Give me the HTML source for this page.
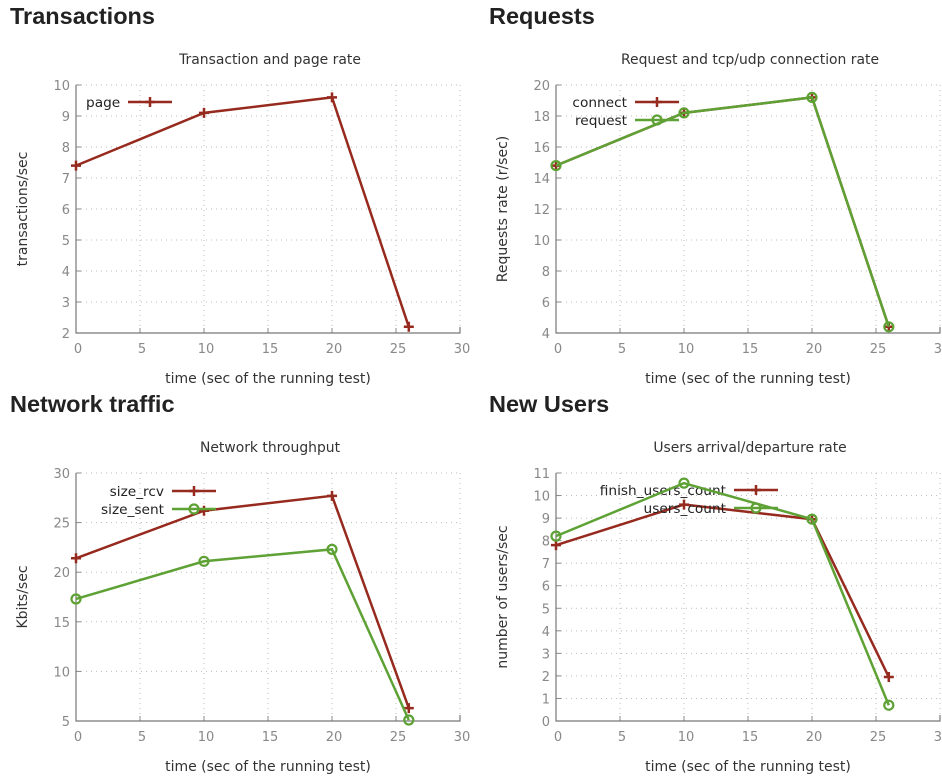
<!DOCTYPE html>
<html><head><meta charset="utf-8">
<style>
body{margin:0;background:#fff;width:942px;height:779px;overflow:hidden;font-family:"Liberation Sans",sans-serif}
h2{position:absolute;margin:0;font-size:23.5px;font-weight:bold;color:#222}
svg{position:absolute;left:0;top:0;font-family:"DejaVu Sans",sans-serif}
</style></head><body>
<h2 style="left:10px;top:3px">Transactions</h2>
<h2 style="left:489px;top:3px">Requests</h2>
<h2 style="left:10px;top:391px">Network traffic</h2>
<h2 style="left:489px;top:391px">New Users</h2>
<svg id="s" width="942" height="779"></svg>
<script>
const xVals=[0,10,20,26];
const pageVals=[7.4,9.1,9.6,2.2];
const connectVals=[14.8,18.2,19.2,4.4];
const requestVals=[14.8,18.2,19.2,4.4];
const rcvVals=[21.4,26.2,27.7,6.3];
const sentVals=[17.3,21.1,22.3,5.1];
const finishVals=[7.8,9.6,8.95,1.95];
const usersVals=[8.2,10.55,8.95,0.7];
const xTicks=[0,5,10,15,20,25,30];
const yTicks1=[2,3,4,5,6,7,8,9,10];
const yTicks2=[4,6,8,10,12,14,16,18,20];
const yTicks3=[5,10,15,20,25,30];
const yTicks4=[0,1,2,3,4,5,6,7,8,9,10,11];
const RED="#962a1e",GREEN="#5ea134";
const S=document.getElementById('s');
function el(t,a,txt){const e=document.createElementNS('http://www.w3.org/2000/svg',t);for(const k in a)e.setAttribute(k,a[k]);if(txt!==undefined)e.textContent=txt;S.appendChild(e);return e;}
function chart(c){
 const L=c.left,R=L+384,T=c.top,B=T+248;
 const sx=v=>L+v/30*384, sy=v=>B-(v-c.ymin)/(c.ymax-c.ymin)*248;
 let t=el('text',{x:L+194,y:T-21,'text-anchor':'middle','font-size':13.9,fill:'#333'},c.title);
 
 c.yt.forEach(v=>{const y=sy(v);
  if(v!==c.ymin){const g=el('line',{x1:L,x2:R,y1:y,y2:y,stroke:'#bbb','stroke-dasharray':'1,4'});}
  el('line',{x1:L,x2:L+5,y1:y,y2:y,stroke:'#888'});
  const l=el('text',{x:L-6,y:y+5,'text-anchor':'end','font-size':13,fill:'#888'},v);
  });
 xTicks.forEach(v=>{const x=sx(v);
  if(v>0){const g=el('line',{x1:x,x2:x,y1:T,y2:B,stroke:'#bbb','stroke-dasharray':'1,4'});}
  el('line',{x1:x,x2:x,y1:B,y2:B-5,stroke:'#888'});
  const l=el('text',{x:x+2,y:B+20,'text-anchor':'middle','font-size':13,fill:'#888'},v);
  });
 const ax=el('path',{d:`M${L},${T}V${B}H${R}V${B-6}`,fill:'none',stroke:'#777','stroke-width':1.2});
 
 let xt=el('text',{x:L+192,y:B+50,'text-anchor':'middle','font-size':14,fill:'#333'},'time (sec of the running test)');
 
 let yt=el('text',{x:0,y:0,'text-anchor':'middle','font-size':14,fill:'#333',transform:`translate(${L-49},${T+124}) rotate(-90)`},c.ytitle);
 
 c.series.forEach((s,i)=>{
  const pts=s.vals.map((v,j)=>[sx(xVals[j]),sy(v)]);
  const p=el('polyline',{points:pts.map(q=>q.join(',')).join(' '),fill:'none',stroke:s.color,'stroke-width':2.5});
  
  pts.forEach(q=>marker(q[0],q[1],s));
  const ly=c.legY+i*18;
  const lt=el('text',{x:c.legX,y:ly+5,'text-anchor':c.legAnchor,'font-size':13.7,fill:'#222'},s.name);
  
  el('line',{x1:c.legLine,x2:c.legLine+44,y1:ly,y2:ly,stroke:s.color,'stroke-width':2.5});
  marker(c.legLine+22,ly,s);
 });
}
function marker(x,y,s){
 if(s.mk==='o'){const m=el('circle',{cx:x,cy:y,r:4.5,fill:'none',stroke:s.color,'stroke-width':2.2});}
 else{const m=el('path',{d:`M${x-5},${y}H${x+5}M${x},${y-5}V${y+5}`,stroke:s.color,'stroke-width':2.5});}
}
chart({left:76,top:85,ymin:2,ymax:10,yt:yTicks1,title:'Transaction and page rate',ytitle:'transactions/sec',legX:86,legAnchor:'start',legLine:128,legY:102,
 series:[{name:'page',vals:pageVals,color:RED,mk:'+'}]});
chart({left:556,top:85,ymin:4,ymax:20,yt:yTicks2,title:'Request and tcp/udp connection rate',ytitle:'Requests rate (r/sec)',legX:627,legAnchor:'end',legLine:635,legY:102,
 series:[{name:'connect',vals:connectVals,color:RED,mk:'+'},{name:'request',vals:requestVals,color:GREEN,mk:'o'}]});
chart({left:76,top:473,ymin:5,ymax:30,yt:yTicks3,title:'Network throughput',ytitle:'Kbits/sec',legX:164,legAnchor:'end',legLine:172,legY:491,
 series:[{name:'size_rcv',vals:rcvVals,color:RED,mk:'+'},{name:'size_sent',vals:sentVals,color:GREEN,mk:'o'}]});
chart({left:556,top:473,ymin:0,ymax:11,yt:yTicks4,title:'Users arrival/departure rate',ytitle:'number of users/sec',legX:726,legAnchor:'end',legLine:734,legY:490,
 series:[{name:'finish_users_count',vals:finishVals,color:RED,mk:'+'},{name:'users_count',vals:usersVals,color:GREEN,mk:'o'}]});
</script>
</body></html>
